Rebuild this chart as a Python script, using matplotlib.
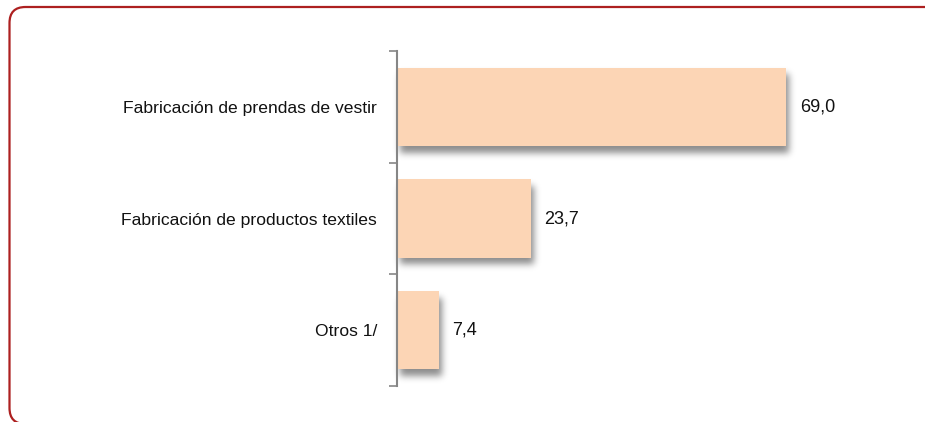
import numpy as np
import matplotlib
matplotlib.use("Agg")
import matplotlib.pyplot as plt
from matplotlib.patches import FancyBboxPatch
from matplotlib import font_manager

categories = ["Fabricación de prendas de vestir",
              "Fabricación de productos textiles",
              "Otros 1/"]
values = [69.0, 23.7, 7.4]
value_labels = ["69,0", "23,7", "7,4"]

names = {f.name for f in font_manager.fontManager.ttflist}
family = ["Liberation Sans Narrow"] if "Liberation Sans Narrow" in names else ["Liberation Sans"]
plt.rcParams["font.family"] = family + ["DejaVu Sans"]

BAR_COLOR = "#FCD5B5"
AXIS_COLOR = "#868686"
FRAME_COLOR = "#AD2020"


def blur_filter(sigma_px):
    def _filter(image, dpi):
        pad = int(sigma_px * 3)
        img = np.pad(image, ((pad, pad), (pad, pad), (0, 0)))
        k = np.arange(-pad, pad + 1)
        kern = np.exp(-0.5 * (k / sigma_px) ** 2)
        kern /= kern.sum()
        for axis in (0, 1):
            img = np.apply_along_axis(lambda m: np.convolve(m, kern, mode="same"), axis, img)
        return img, -pad, -pad
    return _filter


fig = plt.figure(figsize=(9.25, 4.22), dpi=100)
ax = fig.add_axes([397 / 925, 36 / 422, 451 / 925, 335 / 422])

y = np.arange(len(categories))
height = 0.70

# soft drop shadow behind each bar
shadow = ax.barh(y + 0.06, values, height=height, left=0.6, color="#000000",
                 alpha=0.45, zorder=1)
for p in shadow:
    p.set_agg_filter(blur_filter(3.5))
    p.set_rasterized(True)

bars = ax.barh(y, values, height=height, color=BAR_COLOR, zorder=2)

for yi, v, lab in zip(y, values, value_labels):
    ax.annotate(lab, xy=(v, yi), xytext=(10, 0), textcoords="offset points",
                va="center", ha="left", fontsize=13, color="#111111")

ax.set_xlim(0, 80)
ax.set_ylim(len(categories) - 0.5, -0.5)

ax.set_yticks(y)
ax.set_yticklabels(categories, fontsize=12.6, color="#111111")
ax.set_yticks(np.arange(len(categories) + 1) - 0.5, minor=True)
ax.tick_params(axis="y", which="major", length=0, pad=14.4)
ax.tick_params(axis="y", which="minor", length=6, width=1.2, color=AXIS_COLOR)
ax.set_xticks([])

for s in ("top", "right", "bottom"):
    ax.spines[s].set_visible(False)
ax.spines["left"].set_color(AXIS_COLOR)
ax.spines["left"].set_linewidth(1.5)
ax.patch.set_alpha(0)

# rounded frame around the chart area
frame = FancyBboxPatch((0.095, -0.02), 9.60, 4.17,
                       boxstyle="round,pad=0,rounding_size=0.16",
                       transform=fig.dpi_scale_trans, fill=False,
                       edgecolor=FRAME_COLOR, linewidth=1.6, zorder=0)
fig.add_artist(frame)

fig.savefig("out.png", dpi=100)
